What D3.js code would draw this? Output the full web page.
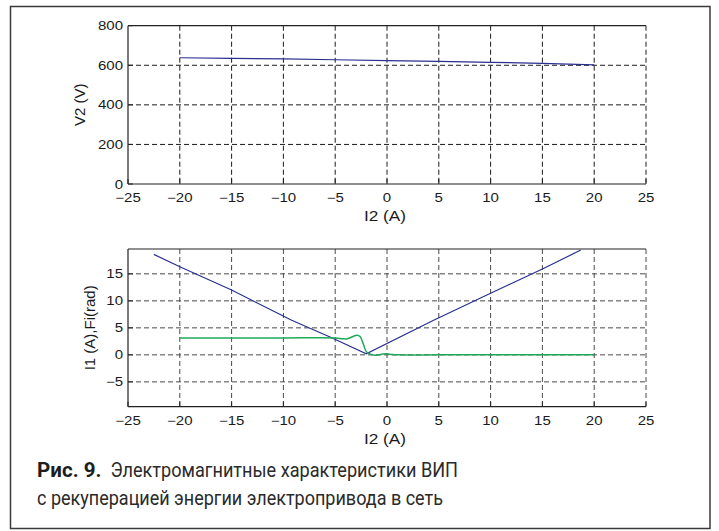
<!DOCTYPE html>
<html><head><meta charset="utf-8">
<script src="https://cdn.jsdelivr.net/npm/d3@7"></script>
<style>html,body{margin:0;padding:0;background:#fff;}svg{display:block;}</style>
</head><body>
<script>
// ---- data ----
const xTicks = [-25,-20,-15,-10,-5,0,5,10,15,20,25];
const v2Ticks = [0,200,400,600,800];
const i1Ticks = [-5,0,5,10,15];
const v2I2 = [-20,-15,-10,-5,0,5,10,15,20];
const v2Vals = [638,635,632,628,624,620,615,610,602];
const i1I2 = [-22.5,-20,-15,-9.2,-5.5,-2,4.5,10,15,18.7];
const i1Vals = [18.6,16.3,12.0,6.4,3.3,0.2,6.4,11.4,15.9,19.4];
const fiI2 = [-20,-10,-5,-4.3,-3.9,-3.4,-2.9,-2.6,-2.3,-2.0,-1.6,-1.0,-0.4,0,0.5,1,5,10,15,20];
const fiVals = [3.14,3.14,3.14,3.0,2.95,3.3,3.65,3.4,2.1,0.6,0.1,-0.08,0.15,0.2,0.05,0,0,0,0,0];
const xLabel = "I2 (A)";
const yLabelTop = "V2 (V)";
const yLabelBot = "I1 (A),Fi(rad)";
const captionBold = "Рис. 9.";
const captionLine1 = "Электромагнитные характеристики ВИП";
const captionLine2 = "с рекуперацией энергии электропривода в сеть";

const W = 719, H = 531;
const svg = d3.select("body").append("svg").attr("width", W).attr("height", H);

svg.append("rect").attr("x", 10.5).attr("y", 6.5).attr("width", 699.5).attr("height", 522)
  .attr("fill", "none").attr("stroke", "#3a3a3a").attr("stroke-width", 1.5);

const x = d3.scaleLinear().domain([-25, 25]).range([128, 646]);
const yTop = d3.scaleLinear().domain([0, 800]).range([184, 25.7]);
const yBot = d3.scaleLinear().domain([-9.6, 19.6]).range([406.7, 249]);

const fmt = v => (v < 0 ? "\u2212" + Math.abs(v) : String(v));

function stretchedText(g, tx, ty, txt, size, sx, anchor) {
  return g.append("text")
    .attr("transform", `translate(${tx},${ty}) scale(${sx},1)`)
    .attr("text-anchor", anchor)
    .attr("font-family", "'Liberation Sans', Arial, sans-serif")
    .attr("font-size", size).attr("fill", "#1a1a1a").text(txt);
}

function panel(y, yTicks, gridColor, data, yLabel, yLabelX) {
  const g = svg.append("g");
  const [x0, x1] = x.range();
  const [yb, yt] = y.range();
  xTicks.filter(t => t > -25).forEach(t => {
    g.append("line").attr("x1", x(t)).attr("x2", x(t)).attr("y1", yt).attr("y2", yb)
      .attr("stroke", gridColor).attr("stroke-width", 1).attr("stroke-dasharray", "5,3");
  });
  yTicks.filter(t => y(t) > yt + 1 && y(t) < yb - 1).forEach(t => {
    g.append("line").attr("x1", x0).attr("x2", x1).attr("y1", y(t)).attr("y2", y(t))
      .attr("stroke", gridColor).attr("stroke-width", 1).attr("stroke-dasharray", "5,3");
  });
  const axCol = "#222";
  g.append("line").attr("x1", x0).attr("x2", x0).attr("y1", yt).attr("y2", yb).attr("stroke", axCol).attr("stroke-width", 1.2);
  g.append("line").attr("x1", x0).attr("x2", x1).attr("y1", yb).attr("y2", yb).attr("stroke", axCol).attr("stroke-width", 1.2);
  g.append("line").attr("x1", x0).attr("x2", x1).attr("y1", yt).attr("y2", yt).attr("stroke", axCol).attr("stroke-width", 1.2);
  xTicks.forEach(t => {
    g.append("line").attr("x1", x(t)).attr("x2", x(t)).attr("y1", yb).attr("y2", yb - 5).attr("stroke", axCol);
    stretchedText(g, x(t), yb + 18, fmt(t), 12, 1.25, "middle");
  });
  yTicks.forEach(t => {
    g.append("line").attr("x1", x0).attr("x2", x0 + 5).attr("y1", y(t)).attr("y2", y(t)).attr("stroke", axCol);
    stretchedText(g, x0 - 5, y(t) + 4.5, fmt(t), 12, 1.25, "end");
  });
  stretchedText(g, (x0 + x1) / 2 - 2, yb + 37, xLabel, 15, 1.15, "middle");
  g.append("text").attr("transform", `translate(${yLabelX},${(yt + yb) / 2}) rotate(-90)`)
    .attr("text-anchor", "middle").attr("font-family", "'Liberation Sans', Arial, sans-serif")
    .attr("font-size", 15).attr("fill", "#1a1a1a").text(yLabel);
  data.forEach(s => {
    const line = d3.line().x(d => x(d[0])).y(d => y(d[1])).curve(s.curve);
    g.append("path").datum(d3.zip(s.xs, s.ys)).attr("d", line)
      .attr("fill", "none").attr("stroke", s.color).attr("stroke-width", s.w);
  });
}

panel(yTop, v2Ticks, "#1a1a1a",
  [{xs: v2I2, ys: v2Vals, color: "#2b3090", w: 1.2, curve: d3.curveLinear}],
  yLabelTop, 85);
panel(yBot, i1Ticks, "#4a4a4a",
  [{xs: i1I2, ys: i1Vals, color: "#2b3090", w: 1.2, curve: d3.curveLinear},
   {xs: fiI2, ys: fiVals, color: "#20a85a", w: 1.5, curve: d3.curveCatmullRom}],
  yLabelBot, 95);

// caption
const capFont = "Roboto, 'Noto Sans', sans-serif";
const cap1 = svg.append("text").attr("y", 477).attr("font-family", capFont)
  .attr("font-size", 21).attr("fill", "#2a2a2a");
cap1.append("tspan").attr("x", 37).attr("font-weight", "bold").attr("fill", "#1e1e1e")
  .attr("textLength", 64.5).attr("lengthAdjust", "spacingAndGlyphs").text(captionBold);
cap1.append("tspan").attr("x", 110.5)
  .attr("textLength", 347.5).attr("lengthAdjust", "spacingAndGlyphs").text(captionLine1);
svg.append("text").attr("x", 37).attr("y", 505).attr("font-family", capFont)
  .attr("font-size", 21).attr("fill", "#2a2a2a").attr("textLength", 406).attr("lengthAdjust", "spacingAndGlyphs")
  .text(captionLine2);
</script>
</body></html>
